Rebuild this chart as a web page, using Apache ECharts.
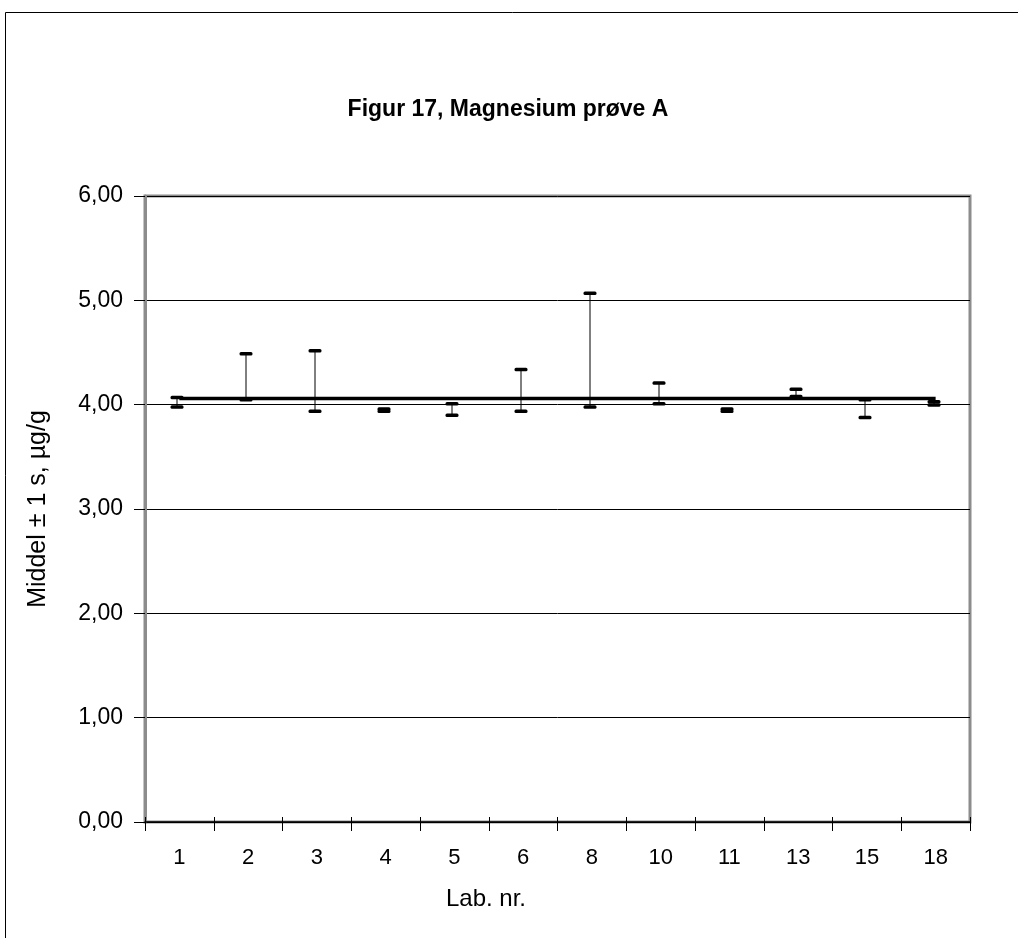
<!DOCTYPE html>
<html>
<head>
<meta charset="utf-8">
<script src="https://cdn.jsdelivr.net/npm/echarts@6/dist/echarts.min.js"></script>
<style>
  html, body { margin: 0; padding: 0; background: #fff; }
  #chart { width: 1018px; height: 938px; }
</style>
</head>
<body>
<div id="chart"></div>
<script>
  // Lab numbers and mean ± 1 s bounds
  var labs = ['1', '2', '3', '4', '5', '6', '8', '10', '11', '13', '15', '18'];
  var lowVals = [3.98, 4.05, 3.94, 3.94, 3.90, 3.94, 3.98, 4.01, 3.94, 4.08, 3.88, 4.00];
  var highVals = [4.07, 4.49, 4.52, 3.96, 4.01, 4.34, 5.07, 4.21, 3.96, 4.15, 4.05, 4.03];
  var refValue = 4.06;
  var yTicks = [0, 1, 2, 3, 4, 5, 6];

  var barData = labs.map(function (l, i) { return [i, lowVals[i], highVals[i]]; });
  var refData = labs.map(function () { return refValue; });

  var fontFam = 'Liberation Sans, Arial, sans-serif';
  var chart = echarts.init(document.getElementById('chart'));
  chart.setOption({
    animation: false,
    backgroundColor: '#fff',
    textStyle: { fontFamily: fontFam },
    graphic: [
      { type: 'rect', shape: { x: 5.5, y: 12.5, width: 1100, height: 1000 },
        style: { fill: 'none', stroke: '#000', lineWidth: 1 }, silent: true },
      { type: 'text', x: 508, y: 110,
        style: { text: 'Figur 17, Magnesium prøve A', fontSize: 23, fontWeight: 'bold',
                 fill: '#000', fontFamily: fontFam, align: 'center', verticalAlign: 'middle' } },
      { type: 'text', x: 486, y: 899,
        style: { text: 'Lab. nr.', fontSize: 24, fill: '#000', fontFamily: fontFam,
                 align: 'center', verticalAlign: 'middle' } }
    ],
    grid: {
      left: 145, right: 48, top: 196, bottom: 116,
      show: true, borderColor: '#8c8c8c', borderWidth: 3, backgroundColor: '#fff'
    },
    xAxis: [
      {
        type: 'category',
        data: labs,
        boundaryGap: true,
        axisLine: { lineStyle: { color: '#000', width: 1.5 } },
        axisTick: { show: true, length: 9, lineStyle: { color: '#000' } },
        axisLabel: { fontSize: 22, color: '#000', margin: 25 },
        splitLine: { show: false }
      },
      {
        type: 'category',
        data: labs,
        position: 'bottom',
        boundaryGap: true,
        axisLine: { show: false },
        axisTick: { show: true, inside: true, length: 5, lineStyle: { color: '#000' } },
        axisLabel: { show: false },
        splitLine: { show: false }
      }
    ],
    yAxis: {
      type: 'value',
      min: yTicks[0], max: yTicks[yTicks.length - 1], interval: 1,
      name: 'Middel ± 1 s, µg/g',
      nameLocation: 'middle', nameGap: 94, nameRotate: 90,
      nameTextStyle: { fontSize: 25, color: '#000' },
      axisLine: { show: true, lineStyle: { color: '#8c8c8c', width: 3 } },
      axisTick: { show: true, length: 11, lineStyle: { color: '#000' } },
      axisLabel: {
        fontSize: 23, color: '#000', margin: 22,
        formatter: function (v) { return v.toFixed(2).replace('.', ','); }
      },
      splitLine: { show: true, lineStyle: { color: '#000', width: 1 } }
    },
    series: [
      {
        type: 'custom',
        data: barData,
        z: 3,
        renderItem: function (params, api) {
          var lo = api.coord([api.value(0), api.value(1)]);
          var hi = api.coord([api.value(0), api.value(2)]);
          var x = Math.round(lo[0]) - 2;
          var w = 13;
          return {
            type: 'group',
            children: [
              { type: 'line', shape: { x1: x, y1: hi[1], x2: x, y2: lo[1] },
                style: { stroke: '#000', lineWidth: 1 } },
              { type: 'rect', shape: { x: x - w / 2, y: hi[1] - 1.5, width: w, height: 3.5, r: 1.5 },
                style: { fill: '#000' } },
              { type: 'rect', shape: { x: x - w / 2, y: lo[1] - 1.5, width: w, height: 3.5, r: 1.5 },
                style: { fill: '#000' } }
            ]
          };
        }
      },
      {
        type: 'line',
        data: refData,
        z: 4,
        symbol: 'none',
        lineStyle: { color: '#000', width: 3.5 }
      }
    ]
  });
</script>
</body>
</html>
